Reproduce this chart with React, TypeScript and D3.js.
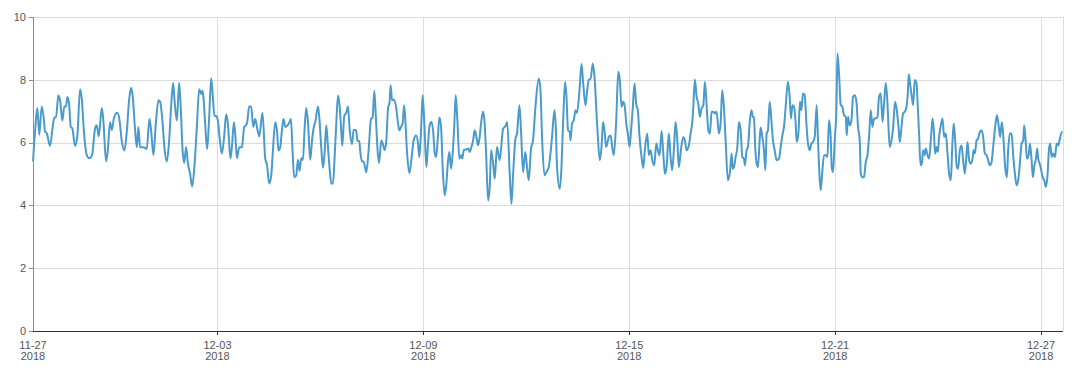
import React from "react";
import * as d3 from "d3";

// Hours after the first reading (2018-11-27 15:00) and the value read at that time
const hourOffsets: number[] = [
  0, 1.5, 3.0, 4.4, 6.1, 7.7, 8.4, 9.6, 11.9, 13.8, 14.9, 16.1, 17.7, 18.9, 20.5, 21.9, 23.1, 24.0, 25.2, 26.4, 27.5, 29.4, 31.0, 32.9, 34.1, 35.7, 37.6, 39.4, 41.3, 43.4, 44.6, 46.0, 48.1, 49.2, 51.1, 52.3, 53.9, 55.1, 56.7, 59.0, 60.4, 62.1, 63.9, 65.6, 67.2, 68.6, 69.8, 71.4, 72.6, 73.7, 74.9, 77.2, 79.6, 81.4,
  82.6, 84.2, 85.9, 87.7, 88.9, 90.5, 91.9, 93.6, 95.2, 96.6, 98.0, 98.9, 100.6, 102.2, 103.4, 104.5, 105.7, 107.1, 108.3, 109.9, 111.3, 112.9, 114.6, 116.2, 117.6, 118.5, 119.2, 120.4, 121.8, 123.2, 124.6, 125.8, 126.9, 128.1, 129.3, 130.4, 132.1, 133.7, 135.1, 136.3, 138.1, 139.1, 140.5, 141.4, 142.6, 144.2, 146.1, 147.7, 148.9, 149.8, 151.2, 152.6, 154.0, 155.4, 156.8, 158.2, 160.5,
  162.4, 163.6, 165.2, 166.6, 167.8, 169.4, 170.6, 171.7, 172.9, 174.1, 175.2, 176.4, 178.0, 179.4, 180.4, 181.5, 182.7, 184.1, 185.3, 186.4, 187.6, 188.8, 189.9, 191.1, 192.3, 193.9, 195.1, 196.2, 197.6, 199.3, 200.4, 201.6, 202.8, 203.9, 205.1, 206.3, 207.4, 208.6, 209.8, 210.9, 212.1, 213.3, 214.4, 215.6, 216.3, 217.7, 219.1, 220.3, 221.4, 223.1, 224.2, 225.9, 227.0, 228.2, 228.9, 230.1, 231.2, 233.1, 234.7, 236.4, 237.5, 238.7, 239.9, 241.0, 242.0,
  243.6, 244.6, 246.0, 247.1, 248.3, 249.4, 250.1, 251.1, 252.2, 253.9, 255.3, 256.2, 257.6, 258.5, 259.5, 260.4, 261.5, 263.2, 264.6, 266.2, 267.9, 269.3, 270.2, 271.6, 272.5, 273.7, 275.1, 276.3, 277.4, 278.6, 279.8, 281.0, 281.9, 283.0, 284.2, 285.4, 286.5, 287.9, 288.9, 290.3, 291.2, 292.4, 293.5, 294.7, 295.6, 296.8, 298.2, 299.3, 300.3, 301.2, 302.9, 304.3, 305.4, 306.6, 307.8, 308.9, 310.1, 311.3, 312.4, 313.6, 314.8, 315.7, 316.8, 318.3, 319.4, 320.4, 321.8, 322.9,
  324.5, 326.4, 328.8, 330.4, 331.6, 333.4, 334.6, 335.8, 337.4, 338.5, 340.2, 341.4, 342.7, 344.3, 345.5, 346.7, 348.3, 349.7, 351.4, 353.7, 354.9, 356.1, 357.7, 359.1, 360.7, 361.9, 363.0, 364.7, 365.6, 366.5, 368.4, 369.6, 370.7, 372.1, 373.1, 374.2, 375.4, 375.9, 377.0, 378.2, 379.4, 380.5, 382.2, 383.6, 384.7, 386.4, 387.6, 388.7, 389.9, 391.5, 392.7, 394.5, 396.4, 397.6, 398.7, 399.9, 400.8,
  402.7, 403.9, 405.1, 406.2, 407.9, 409.3, 410.4, 411.6, 412.8, 413.9, 414.9, 416.0, 417.2, 418.1, 419.5, 420.7, 421.8, 423.0, 424.2, 425.6, 426.8, 427.9, 429.6, 430.7, 431.9, 433.1, 434.5, 435.9, 437.0, 438.2, 439.6, 440.8, 441.9, 443.1, 444.7, 445.9, 447.0, 448.2, 449.4, 450.6, 451.7, 453.1, 454.8, 455.9, 457.1, 458.7, 459.9, 461.1, 461.8, 462.9, 464.1, 465.3, 466.4, 467.6, 468.8, 469.9, 471.1, 472.3, 473.4, 474.6, 475.8, 476.9, 478.1, 479.7, 480.9, 482.0,
  483.2, 484.4, 486.0, 487.4, 488.6, 489.3, 490.2, 491.4, 492.6, 493.7, 494.9, 496.1, 497.2, 497.9, 499.1, 500.0, 501.2, 502.4, 503.5, 504.2, 505.2, 506.1, 507.0, 508.2, 508.9, 510.1, 511.2, 512.2, 513.1, 514.0, 515.2, 516.4, 517.5, 518.7, 520.1, 521.7, 522.9, 524.1, 525.2, 526.4, 528.0, 529.2, 530.1, 531.1, 532.2, 533.4, 534.1, 535.3, 536.4, 537.4, 538.5, 539.7, 540.9, 542.0, 543.2, 544.4, 545.5, 546.7, 548.1, 549.0, 550.0, 550.9, 552.1, 553.2, 554.4, 555.6, 556.7, 557.9, 558.6, 559.5, 560.7, 561.9, 562.6, 563.7,
  564.9, 566.1, 567.2, 568.4, 569.1, 570.0, 571.2, 572.4, 573.5, 574.7, 575.9, 577.0, 578.2, 578.9, 580.1, 581.2, 582.4, 583.6, 584.7, 585.9, 587.1, 588.2, 589.4, 590.6, 591.7, 592.9, 594.1, 595.2, 596.4, 597.6, 598.3, 599.2, 600.4, 601.5, 602.9, 604.1, 605.3, 606.2, 607.4, 608.5, 609.7, 610.9, 611.8, 612.5, 613.4, 614.6, 615.5, 616.7, 617.9, 618.8, 619.7, 620.7, 621.6, 622.5, 623.5, 624.4, 625.6, 626.7, 627.9, 629.1, 630.0, 630.9, 631.9, 632.8, 633.7, 634.9, 636.1, 637.2, 638.4, 639.6, 640.7, 641.9, 643.0, 643.9,
  644.9, 646.1, 647.0, 648.2, 649.4, 650.5, 651.7, 652.9, 653.6, 654.7, 655.9, 657.1, 657.8, 658.7, 659.9, 661.0, 662.2, 663.4, 664.5, 665.7, 666.9, 668.0, 669.2, 670.4, 671.5, 672.9, 674.1, 675.3, 676.4, 677.6, 678.8, 679.9, 681.1, 682.0, 683.2, 684.4, 685.5, 686.7, 687.9, 689.0, 690.2, 691.4, 692.5, 693.2, 694.2, 695.1, 696.3, 697.2, 698.4, 699.3, 700.2, 701.4, 702.3, 703.0, 704.0, 704.9, 706.1, 707.2, 708.4, 709.6, 710.5, 711.4, 712.4, 713.3, 714.7, 715.9, 717.0, 718.2, 719.6, 720.0,
];

const readings: number[] = [
  5.4, 6.4, 7.1, 6.25, 7.15, 6.7, 6.35, 6.3, 5.9, 6.5, 6.8, 6.8, 7.5, 7.35, 6.7, 7.15, 7.15, 7.45, 7.25, 6.5, 6.45, 5.9, 6.2, 7.7, 7.4, 6.3, 5.6, 5.5, 5.6, 6.45, 6.55, 6.2, 7.1, 6.7, 5.4, 5.75, 6.65, 6.4, 6.8, 6.95, 6.75, 6.05, 5.75, 6.35, 7.35, 7.75, 7.45, 6.4, 5.85, 6.5, 5.85, 5.85, 5.8, 6.75,
  6.4, 5.6, 6.6, 7.35, 7.3, 6.7, 5.85, 5.4, 6.05, 7.15, 7.9, 7.4, 6.7, 7.9, 7.05, 5.85, 5.35, 5.85, 5.35, 5.0, 4.6, 5.25, 6.5, 7.7, 7.55, 7.65, 7.45, 6.6, 5.8, 6.8, 8.05, 7.45, 6.85, 6.85, 6.7, 6.2, 5.65, 6.2, 6.9, 6.6, 5.5, 5.85, 6.65, 6.3, 5.5, 5.85, 5.85, 6.5, 6.55, 6.65, 7.15, 7.15, 6.5, 6.75, 6.45, 6.2, 6.95,
  5.5, 5.3, 4.7, 4.95, 5.75, 6.65, 6.4, 5.75, 5.85, 6.4, 6.75, 6.5, 6.55, 6.65, 6.75, 5.75, 4.9, 4.95, 5.45, 5.1, 5.5, 5.45, 6.4, 7.1, 6.65, 5.45, 6.05, 6.45, 6.7, 7.15, 6.7, 5.85, 5.2, 5.65, 6.55, 5.85, 5.2, 4.7, 4.7, 5.5, 6.6, 7.5, 7.2, 6.35, 5.9, 6.85, 6.95, 7.15, 6.45, 5.95, 6.4, 6.4, 6.05, 6.05, 5.7, 5.4, 5.4, 5.05, 5.75, 6.75, 6.8, 7.65, 6.7, 5.75, 5.35,
  6.07, 5.97, 5.76, 6.07, 7.09, 7.3, 7.83, 7.35, 7.37, 7.14, 6.61, 6.39, 6.52, 6.61, 7.19, 6.71, 5.76, 5.03, 5.44, 6.07, 6.23, 5.97, 5.54, 6.61, 7.51, 6.61, 5.22, 5.97, 6.55, 6.66, 6.39, 5.65, 5.54, 6.07, 6.8, 6.5, 5.22, 4.32, 4.59, 5.44, 5.7, 5.17, 5.65, 6.61, 7.51, 6.71, 5.49, 5.6, 5.49, 5.76, 5.78, 5.81, 5.7, 5.86, 6.07, 6.39, 6.18, 5.91, 6.18, 6.71, 6.98, 6.71, 5.76, 4.16, 4.59, 5.76, 5.33, 4.85,
  5.86, 5.44, 6.45, 6.52, 6.66, 5.01, 4.05, 5.01, 6.13, 6.29, 7.19, 6.29, 5.06, 5.7, 5.22, 4.8, 5.81, 6.07, 7.14, 8.04, 7.67, 6.07, 4.96, 5.06, 5.22, 5.65, 6.18, 7.03, 6.5, 5.22, 4.53, 5.22, 6.61, 7.94, 7.46, 6.39, 6.34, 6.07, 6.61, 6.71, 7.03, 6.95, 7.67, 8.5, 7.94, 7.19, 7.67, 8.01, 8.01, 8.52, 8.1, 6.61, 5.44, 5.86, 6.66, 6.29, 5.86,
  6.18, 6.23, 5.86, 5.6, 6.71, 8.26, 7.99, 7.14, 7.3, 7.14, 6.61, 6.29, 5.86, 6.29, 7.14, 7.88, 7.24, 7.03, 6.18, 5.54, 5.19, 5.76, 6.29, 5.6, 5.76, 5.44, 5.28, 5.97, 5.76, 5.6, 6.37, 5.65, 5.01, 5.22, 6.29, 5.54, 5.12, 5.76, 6.66, 6.07, 5.22, 5.76, 6.18, 6.07, 5.76, 5.91, 6.29, 6.66, 7.14, 8.01, 7.46, 7.24, 6.82, 7.09, 7.19, 7.94, 7.19, 6.39, 6.29, 6.98, 6.98, 6.93, 6.98, 6.29, 6.61, 7.67,
  7.14, 6.07, 4.8, 5.06, 5.65, 5.17, 5.22, 5.54, 5.86, 6.66, 6.39, 5.54, 5.49, 5.28, 5.76, 5.86, 6.61, 7.03, 6.82, 6.8, 5.76, 5.33, 5.22, 6.07, 6.48, 6.18, 5.76, 5.12, 6.29, 6.39, 7.3, 6.71, 6.07, 5.76, 5.44, 5.49, 5.86, 6.23, 6.5, 7.14, 7.94, 7.46, 6.77, 7.19, 7.14, 6.61, 6.02, 6.29, 7.3, 7.03, 7.56, 7.51, 6.61, 5.97, 5.76, 5.97, 6.02, 6.18, 7.19, 6.07, 5.01, 4.48, 5.12, 5.6, 5.6, 5.54, 6.71, 6.18, 5.22, 5.06, 6.07, 7.14, 8.84, 8.2,
  7.2, 7.14, 6.87, 6.82, 6.23, 6.82, 6.55, 6.71, 7.46, 7.51, 7.3, 6.5, 6.07, 5.01, 4.9, 4.9, 5.38, 5.6, 6.18, 7.03, 6.5, 6.77, 6.77, 6.82, 7.46, 7.56, 6.66, 7.24, 7.9, 7.24, 6.5, 5.86, 6.07, 6.45, 7.3, 7.03, 6.5, 6.02, 6.5, 6.93, 6.98, 7.14, 7.56, 8.18, 7.88, 7.46, 7.19, 7.99, 7.88, 7.14, 6.29, 5.28, 5.33, 5.76, 5.6, 5.81, 5.6, 5.49, 6.07, 6.77, 6.39, 5.65, 5.86, 5.7, 6.18, 6.55, 6.77, 6.18, 6.29, 5.65, 5.01, 4.8, 5.97, 6.61,
  6.1, 5.22, 5.17, 5.76, 5.91, 5.44, 5.01, 5.65, 6.02, 5.44, 5.33, 5.49, 5.76, 5.65, 6.07, 6.13, 6.34, 6.39, 6.18, 5.65, 5.6, 5.44, 5.28, 5.38, 5.86, 6.5, 6.87, 6.55, 6.18, 6.66, 6.07, 5.22, 4.9, 5.76, 6.29, 6.29, 5.6, 5.01, 4.64, 4.8, 5.33, 5.97, 6.07, 6.55, 6.07, 5.49, 5.6, 5.97, 5.44, 4.9, 5.22, 5.49, 5.81, 5.49, 5.33, 5.17, 4.9, 4.8, 4.59, 5.01, 5.76, 5.97, 5.54, 5.65, 5.54, 5.97, 5.91, 6.13, 6.34, 6.34,
];

const yTickValues: number[] = [0, 2, 4, 6, 8, 10];
const xTickDates: string[] = ["2018-11-27T15:00", "2018-12-03T00:00", "2018-12-09T00:00", "2018-12-15T00:00", "2018-12-21T00:00", "2018-12-27T00:00"];
const domainStart = "2018-11-27T15:00";
const domainEnd = "2018-12-27T15:00";

const W = 1080;
const H = 374;
const M = { left: 33, right: 17.5, top: 17, bottom: 43 };

const parse = (s: string) => {
  const [d, t] = s.split("T");
  const [y, mo, da] = d.split("-").map(Number);
  const [hh, mm] = t.split(":").map(Number);
  return new Date(y, mo - 1, da, hh, mm);
};

export default function App() {
  const start = parse(domainStart);
  const end = parse(domainEnd);
  const x = d3.scaleTime().domain([start, end]).range([M.left, W - M.right]);
  const y = d3.scaleLinear().domain([0, 10]).range([H - M.bottom, M.top]);

  const pts = hourOffsets.map((h, i) => ({ t: new Date(start.getTime() + h * 3600000), v: readings[i] }));
  const line = d3
    .line<{ t: Date; v: number }>()
    .x((d) => x(d.t))
    .y((d) => y(d.v))
    .curve(d3.curveMonotoneX);

  const ticks = xTickDates.map(parse);
  const fmtDay = d3.timeFormat("%m-%d");
  const fmtYear = d3.timeFormat("%Y");
  const x0 = M.left;
  const x1 = W - M.right;
  const yb = y(0);
  const font = "'Liberation Sans', Arial, Helvetica, sans-serif";

  return (
    <svg width={W} height={H} style={{ position: "absolute", left: 0, top: 0, background: "#fff" }} fontFamily={font}>
      {yTickValues.filter((v) => v > 0).map((v) => (
        <line key={"hg" + v} x1={x0} x2={x1} y1={Math.round(y(v)) + 0.5} y2={Math.round(y(v)) + 0.5} stroke="#dcdcdc" strokeWidth={1} />
      ))}
      {ticks.slice(1).map((t, i) => (
        <line key={"vg" + i} x1={Math.round(x(t)) + 0.5} x2={Math.round(x(t)) + 0.5} y1={M.top} y2={yb} stroke="#dcdcdc" strokeWidth={1} />
      ))}
      <line x1={Math.round(x1) + 0.5} x2={Math.round(x1) + 0.5} y1={M.top} y2={yb} stroke="#dcdcdc" strokeWidth={1} />

      <path d={line(pts) || ""} fill="none" stroke="#4a9bcc" strokeWidth={2} strokeLinejoin="round" />

      <line x1={x0 + 0.5} x2={x0 + 0.5} y1={M.top} y2={yb} stroke="#8c8c8c" strokeWidth={1} />
      {yTickValues.map((v) => (
        <g key={"yt" + v}>
          <line x1={x0 - 4} x2={x0} y1={Math.round(y(v)) + 0.5} y2={Math.round(y(v)) + 0.5} stroke="#8c8c8c" strokeWidth={1} />
          <text x={x0 - 7} y={y(v)} dy="0.35em" textAnchor="end" fontSize={11} fill="#555">
            {v}
          </text>
        </g>
      ))}

      <line x1={x0} x2={x1 + 0.5} y1={Math.round(yb) + 0.5} y2={Math.round(yb) + 0.5} stroke="#333" strokeWidth={1} />
      {ticks.map((t, i) => (
        <g key={"xt" + i}>
          {i > 0 && (
            <line x1={Math.round(x(t)) + 0.5} x2={Math.round(x(t)) + 0.5} y1={yb} y2={yb + 4} stroke="#333" strokeWidth={1} />
          )}
          <text x={x(t)} y={yb + 18} textAnchor="middle" fontSize={11} fill="#555">
            {fmtDay(t)}
          </text>
          <text x={x(t)} y={yb + 29} textAnchor="middle" fontSize={11} fill="#555">
            {fmtYear(t)}
          </text>
        </g>
      ))}
    </svg>
  );
}
